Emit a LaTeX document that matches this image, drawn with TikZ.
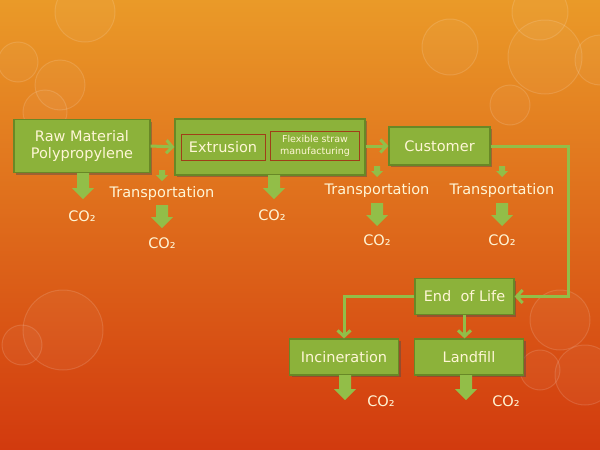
\documentclass[tikz,border=0pt]{standalone}
\usepackage{fontspec}
\setmainfont{DejaVu Sans}
\usetikzlibrary{arrows.meta,shadows}
\definecolor{bgtop}{RGB}{234,154,40}
\definecolor{bgmid}{RGB}{228,112,30}
\definecolor{bgbot}{RGB}{210,58,14}
\definecolor{boxgreen}{RGB}{140,178,58}
\definecolor{boxedge}{RGB}{104,136,38}
\definecolor{linegreen}{RGB}{146,190,72}
\definecolor{txt}{RGB}{255,246,214}
\definecolor{innered}{RGB}{160,62,24}
\tikzset{
  gbox/.style={draw=boxedge, line width=1.2pt, fill=boxgreen, text=txt,
    font=\fontsize{14.5}{17}\selectfont, align=center, inner sep=0pt,
    drop shadow={shadow xshift=2pt, shadow yshift=-2pt, opacity=0.45, fill=black!70}},
  ibox/.style={draw=innered, line width=1pt, fill=boxgreen, text=txt, align=center, inner sep=0pt},
  conn/.style={draw=linegreen, line width=3pt, -{Straight Barb[length=6pt,width=13pt,line width=3pt]}},
  lbl/.style={text=txt, font=\fontsize{14.5}{17}\selectfont, inner sep=0pt},
  bokeh/.style={draw=white, draw opacity=0.13, fill=white, fill opacity=0.04, line width=1pt}
}
\newcommand\blockarr[6]{%
  \fill[linegreen] (#1-#4,#2) -- (#1+#4,#2) -- (#1+#4,#2+#3-#6) -- (#1+#5,#2+#3-#6)
    -- (#1,#2+#3) -- (#1-#5,#2+#3-#6) -- (#1-#4,#2+#3-#6) -- cycle;}
\begin{document}
\begin{tikzpicture}[x=1pt,y=-1pt]
\useasboundingbox (0,0) rectangle (600,450);
\fill[top color=bgtop, middle color=bgmid, bottom color=bgbot] (0,0) rectangle (600,450);
% bokeh
\path[bokeh] (450,47) circle (28);
\path[bokeh] (545,57) circle (37);
\path[bokeh] (540,12) circle (28);
\path[bokeh] (600,60) circle (25);
\path[bokeh] (510,105) circle (20);
\path[bokeh] (18,62) circle (20);
\path[bokeh] (60,85) circle (25);
\path[bokeh] (85,12) circle (30);
\path[bokeh] (45,112) circle (22);
\path[bokeh] (22,345) circle (20);
\path[bokeh] (63,330) circle (40);
\path[bokeh] (560,320) circle (30);
\path[bokeh] (585,375) circle (30);
\path[bokeh] (540,370) circle (20);
% boxes
\node[gbox, minimum width=136pt, minimum height=53pt] (raw) at (82,146) {Raw Material\\Polypropylene};
\node[gbox, minimum width=190pt, minimum height=56pt] (ext) at (270,147) {};
\node[ibox, minimum width=84pt, minimum height=26pt, font=\fontsize{14.5}{17}\selectfont] (extr) at (223,147) {Extrusion};
\node[ibox, minimum width=89pt, minimum height=29pt, font=\fontsize{9.5}{12}\selectfont] (flex) at (315,146) {Flexible straw\\manufacturing};
\node[gbox, minimum width=101pt, minimum height=38pt] (cust) at (439.5,146) {Customer};
\node[gbox, minimum width=99pt, minimum height=36pt] (eol) at (464.5,296.5) {End\ \ of Life};
\node[gbox, minimum width=109pt, minimum height=36pt] (inc) at (344,357) {Incineration};
\node[gbox, minimum width=109pt, minimum height=36pt] (land) at (469,357) {Landfill};
% connectors
\draw[conn] (raw.east) -- (ext.west);
\draw[conn] (ext.east |- cust.west) -- (cust.west);
\coordinate (turn) at (568,220);
\draw[conn] (cust.east) -| (turn) |- (eol.east);
\draw[conn] (eol.west) -| (inc.north);
\draw[conn] (eol.south) -- (eol.south |- land.north);
% block arrows
\blockarr{83}{173}{26}{6}{11}{11}
\blockarr{162}{170}{11}{3}{6}{6}
\blockarr{162}{205}{23}{6}{11}{11}
\blockarr{274}{175}{24}{6}{11}{11}
\blockarr{377}{166}{11}{3}{6}{6}
\blockarr{377}{203}{23}{6}{11}{11}
\blockarr{502}{166}{11}{3}{6}{6}
\blockarr{502}{203}{23}{6}{11}{11}
\blockarr{345}{375}{25}{6}{11}{11}
\blockarr{466}{375}{25}{6}{11}{11}
% labels
\node[lbl] (t1) at (162,193) {Transportation};
\node[lbl] (t2) at (377,190) {Transportation};
\node[lbl] (t3) at (502,190) {Transportation};
\node[lbl] (c1) at (82,216) {CO₂};
\node[lbl] (c2) at (162,243) {CO₂};
\node[lbl] (c3) at (272,215) {CO₂};
\node[lbl] (c4) at (377,240) {CO₂};
\node[lbl] (c5) at (502,240) {CO₂};
\node[lbl] (c6) at (381,401) {CO₂};
\node[lbl] (c7) at (506,401) {CO₂};
\end{tikzpicture}
\end{document}
